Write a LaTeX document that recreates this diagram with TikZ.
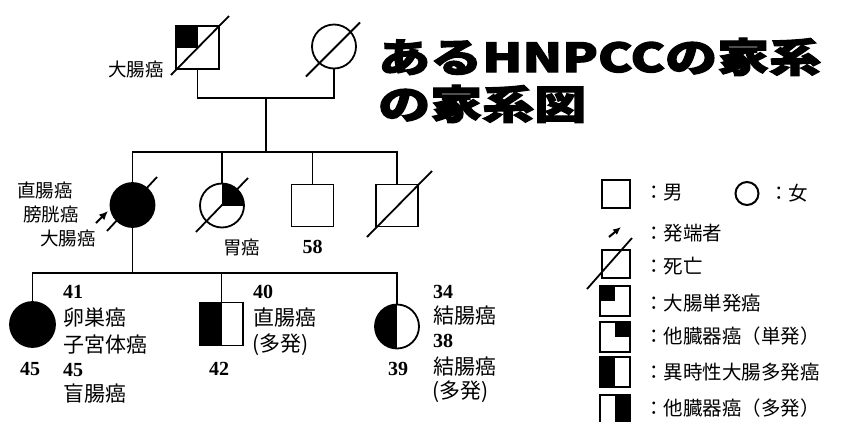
\documentclass[tikz,border=0pt]{standalone}
\usepackage{fontspec}
\setmainfont{Liberation Serif}
\newfontfamily\jp{Noto Sans CJK JP}
\newfontfamily\jpttl[BoldFeatures={FakeBold=2.5}]{Noto Sans CJK JP}
\usetikzlibrary{arrows.meta}
\begin{document}
\begin{tikzpicture}[x=1pt,y=-1pt,
  sym/.style={draw, line width=1.8pt, inner sep=0pt, outer sep=0pt},
  male/.style={sym, rectangle, minimum size=#1},
  male/.default=43pt,
  fem/.style={sym, circle, minimum size=#1},
  fem/.default=44pt,
  ul/.style={path picture={\fill (path picture bounding box.north west) rectangle (path picture bounding box.center);}},
  ur/.style={path picture={\fill (path picture bounding box.north east) rectangle (path picture bounding box.center);}},
  lh/.style={path picture={\fill (path picture bounding box.north west) rectangle (path picture bounding box.south);}},
  rh/.style={path picture={\fill (path picture bounding box.north east) rectangle (path picture bounding box.south);}},
  conn/.style={line width=1.7pt},
  dead/.style={line width=1.8pt},
  proband/.style={line width=2pt, -{Latex[length=9pt,width=8pt]}},
  lblA/.style={font=\jp\fontsize{18.5}{18.5}\selectfont, inner sep=0pt, anchor=west},
  lblB/.style={font=\jp\fontsize{21}{21}\selectfont, inner sep=0pt, anchor=west},
  num/.style={font=\bfseries\fontsize{20}{20}\selectfont, inner sep=0pt},
  leg/.style={font=\jp\fontsize{19.5}{19.5}\selectfont, inner sep=0pt, anchor=west},
  ttl/.style={font=\jpttl\bfseries\fontsize{40}{40}\selectfont, xscale=1.3, inner sep=0pt, anchor=west}
]
\useasboundingbox (0,0) rectangle (844,421);

% ---------- title ----------
\node[ttl] (title1) at (378,57) {あるHNPCCの家系};
\node[ttl] (title2) at (378,104) {の家系図};

% ---------- generation I ----------
\node[male, ul] (gf) at (197.5,47.5) {};
\node[fem] (gm) at (334,46.5) {};
\draw[dead] ([shift={(-5,6)}]gf.south west) -- ([shift={(10,-10)}]gf.north east);
\draw[dead] ([shift={(-28,30)}]gm.center) -- ([shift={(26,-24)}]gm.center);
\node[lblA, anchor=east] (lgf) at (164,69) {大腸癌};

\coordinate (m1) at (266,98);
\coordinate (s1) at (266,152);
\draw[conn] (gf.south) |- (m1) -| (gm.south);
\draw[conn] (m1) -- (s1);

% ---------- generation II ----------
\node[fem, fill] (p) at (132.5,205) {};
\node[fem, ur] (ii2) at (222,205.5) {};
\node[male=42pt] (ii3) at (312.5,205.5) {};
\node[male=42pt] (ii4) at (397,205.5) {};
\draw[dead] ([shift={(-25.5,26)}]p.center) -- ([shift={(24.5,-28)}]p.center);
\draw[dead] ([shift={(-26,26.5)}]ii2.center) -- ([shift={(26,-27.5)}]ii2.center);
\draw[dead] ([shift={(-9,10.5)}]ii4.south west) -- ([shift={(14,-13.5)}]ii4.north east);

\draw[conn] (p.north) |- (s1) -| (ii4.north);
\draw[conn] (s1) -| (ii2.north);
\draw[conn] (s1) -| (ii3.north);

\coordinate (pa) at (96,223);
\coordinate (pb) at (108,211);
\draw[proband] (pa) -- (pb);

\node[lblA] (l1) at (17,190) {直腸癌};
\node[lblA] (l2) at (23,215) {膀胱癌};
\node[lblA] (l3) at (40,238) {大腸癌};
\node[lblA] (l4) at (223,247) {胃癌};
\node[num] (n58) at (312.5,247) {58};

% ---------- generation III ----------
\coordinate (s2) at (132.5,273);
\draw[conn] (p.south) -- (s2);
\node[fem=45pt, fill] (c1) at (32.5,324.5) {};
\node[male, lh] (c2) at (221.5,324) {};
\node[fem, lh] (c3) at (397,326.5) {};
\draw[conn] (c1.north) |- (s2) -| (c3.north);
\draw[conn] (s2) -| (c2.north);

\node[num] (n45) at (30,369) {45};
\node[num, anchor=west] (a1) at (63,292) {41};
\node[lblB] (a2) at (63,318) {卵巣癌};
\node[lblB] (a3) at (63,345) {子宮体癌};
\node[num, anchor=west] (a4) at (63,370) {45};
\node[lblB] (a5) at (63,394) {盲腸癌};

\node[num] (n42) at (219,369) {42};
\node[num, anchor=west] (b1) at (253,292) {40};
\node[lblB] (b2) at (253,318) {直腸癌};
\node[lblB] (b3) at (252,345) {(多発)};

\node[num] (n39) at (398,369) {39};
\node[num, anchor=west] (d1) at (433,292) {34};
\node[lblB] (d2) at (433,316) {結腸癌};
\node[num, anchor=west] (d3) at (433,341) {38};
\node[lblB] (d4) at (433,367) {結腸癌};
\node[lblB] (d5) at (432,392) {(多発)};

% ---------- legend ----------
\node[male=28pt, line width=2pt] (lm) at (616,193.5) {};
\node[leg] (tm) at (644,193) {：男};
\node[fem=23pt, line width=2pt] (lf) at (747,193.5) {};
\node[leg] (tf) at (769,193) {：女};

\coordinate (la) at (609,237);
\coordinate (lb) at (621,227);
\draw[line width=2pt, -{Latex[length=8pt,width=7pt]}] (la) -- (lb);
\node[leg] (tp) at (644,233) {：発端者};

\node[male=28pt, line width=2pt] (ld) at (616,264) {};
\draw[dead] ([shift={(-15,11)}]ld.south west) -- ([shift={(2,-12)}]ld.north east);
\node[leg] (td) at (644,266) {：死亡};

\node[male=30pt, line width=2pt, ul] (lb1) at (615,301) {};
\node[leg] (t1) at (644,303) {：大腸単発癌};
\node[male=30pt, line width=2pt, ur] (lb2) at (615,337) {};
\node[leg] (t2) at (644,336) {：他臓器癌（単発）};
\node[male=30pt, line width=2pt, lh] (lb3) at (615,372) {};
\node[leg] (t3) at (644,372) {：異時性大腸多発癌};
\node[male=30pt, line width=2pt, rh] (lb4) at (615,410) {};
\node[leg] (t4) at (644,408) {：他臓器癌（多発）};
\end{tikzpicture}
\end{document}
